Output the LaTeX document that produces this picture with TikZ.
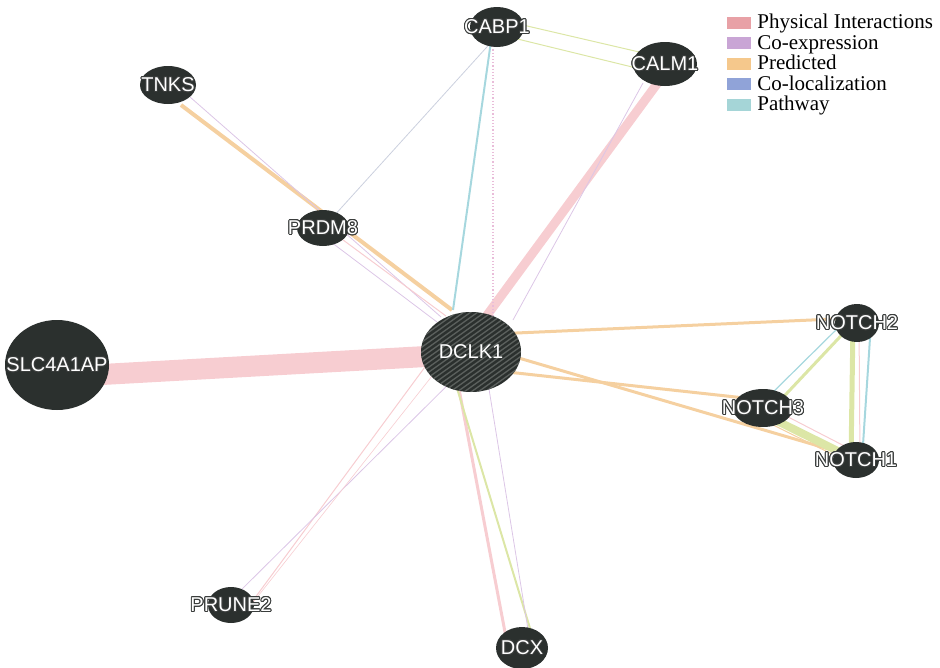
\documentclass[tikz,border=0pt]{standalone}
\usepackage{fontspec}
\usepackage[copies]{contour}
\usetikzlibrary{shapes.geometric,positioning}

\setmainfont{Liberation Serif}
\newfontfamily\genefamily{Liberation Sans}
\newcommand\genefont{\genefamily\fontsize{20}{20}\selectfont}
\newcommand\legfont{\fontsize{21}{21}\selectfont}
\contourlength{1pt}
\contournumber{16}
\newcommand\gname[1]{\contour{outlc}{#1}}

\definecolor{nodefill}{HTML}{2B302E}
\definecolor{hatchc}{HTML}{5C615E}
\definecolor{outlc}{HTML}{3A3D3C}
\definecolor{physc}{HTML}{F7CDD1}
\definecolor{coexpc}{HTML}{DCC6E6}
\definecolor{dotc}{HTML}{E9BCD9}
\definecolor{predc}{HTML}{F5D0A0}
\definecolor{greyc}{HTML}{CBD0DE}
\definecolor{pathc}{HTML}{A6D7DE}
\definecolor{domainc}{HTML}{DCE6A6}
\definecolor{legphys}{HTML}{E8A1A6}
\definecolor{legcoexp}{HTML}{C9A5D5}
\definecolor{legpred}{HTML}{F5C88C}
\definecolor{legcoloc}{HTML}{90A3D8}
\definecolor{legpath}{HTML}{A5D5D7}

\pgfdeclarelayer{edges}
\pgfsetlayers{edges,main}

\begin{document}
\begin{tikzpicture}[x=1pt,y=-1pt,
  gene/.style 2 args={ellipse, fill=nodefill, inner sep=0pt, minimum width=#1, minimum height=#2},
  genetext/.style={text=white, font=\genefont, inner sep=0pt},
  hatch/.style={draw=hatchc, line width=1.3pt},
  phys/.style={draw=physc, line width=#1}, phys/.default=1,
  coexp/.style={draw=coexpc, line width=#1}, coexp/.default=0.8,
  pred/.style={draw=predc, line width=#1}, pred/.default=3,
  pathway/.style={draw=pathc, line width=#1}, pathway/.default=2,
  domain/.style={draw=domainc, line width=#1}, domain/.default=2,
  swatch/.style={minimum width=24pt, minimum height=12pt, inner sep=0pt},
  legtext/.style={font=\legfont, inner sep=0pt, anchor=base west}]

  \useasboundingbox (0,0) rectangle (940,667);

  % genes
  \node[gene={100}{80}, path picture={
      \foreach \k in {-20,...,20}
        \draw[hatch] ([xshift=\k*7pt]path picture bounding box.center) +(-70,50) -- +(70,-50);
    }, label={[genetext]center:DCLK1}] (dclk) at (471,352) {};
  \node[gene={104}{90}, label={[genetext]center:\gname{SLC4A1AP}}] (slc) at (57,365) {};
  \node[gene={54}{40}, label={[genetext]center:\gname{CABP1}}] (cabp1) at (497,27) {};
  \node[gene={64}{44}, label={[genetext]center:\gname{CALM1}}] (calm1) at (665,64) {};
  \node[gene={56}{38}, label={[genetext]center:\gname{TNKS}}] (tnks) at (168,85) {};
  \node[gene={52}{36}, label={[genetext]center:\gname{PRDM8}}] (prdm8) at (323,228) {};
  \node[gene={44}{38}, label={[genetext]center:\gname{NOTCH2}}] (notch2) at (857,323) {};
  \node[gene={60}{38}, label={[genetext]center:\gname{NOTCH3}}] (notch3) at (763,408) {};
  \node[gene={46}{36}, label={[genetext]center:\gname{NOTCH1}}] (notch1) at (856,460) {};
  \node[gene={46}{36}, label={[genetext]center:\gname{PRUNE2}}] (prune2) at (231,605) {};
  \node[gene={52}{42}, label={[genetext]center:\gname{DCX}}] (dcx) at (522,648) {};

  % interactions
  \begin{pgfonlayer}{edges}
    \draw[phys=21] ([yshift=-12pt]slc.center) -- ([yshift=-2pt]dclk.center);
    \draw[phys=9] ([yshift=-9pt]calm1.center) -- ([xshift=-11pt]dclk.center);
    \draw[coexp] ([xshift=-22pt,yshift=-19pt]calm1.center) -- ([xshift=42pt,yshift=32pt]dclk.center);
    \draw[pred=4] ([xshift=13pt,yshift=-20pt]tnks.center) -- ([xshift=-19pt,yshift=42pt]dclk.center);
    \draw[coexp] ([xshift=22pt,yshift=-12pt]tnks.center) -- ([xshift=-30pt,yshift=35pt]dclk.center);
    \draw[phys] ([xshift=12pt,yshift=-6pt]prdm8.center) -- ([xshift=-25pt,yshift=36pt]dclk.center);
    \draw[coexp] ([yshift=-8pt]prdm8.center) -- ([xshift=-34pt,yshift=30pt]dclk.center);
    \draw[draw=greyc, line width=0.8pt] (prdm8.center) -- ([xshift=8pt]cabp1.center);
    \draw[pathway] ([xshift=-4pt]cabp1.center) -- ([xshift=-18pt,yshift=42pt]dclk.center);
    \draw[draw=dotc, line width=1.2pt, dotted] ([xshift=-4pt]cabp1.center) -- ([xshift=22pt,yshift=30pt]dclk.center);
    \draw[domain=1] ([yshift=8pt]cabp1.center) -- ([yshift=6pt]calm1.center);
    \draw[domain=1] ([yshift=-7pt]cabp1.center) -- ([yshift=-11pt]calm1.center);
    \draw[pred] ([yshift=17pt]dclk.center) -- ([yshift=5pt]notch2.center);
    \draw[pred] ([yshift=-16pt]dclk.center) -- ([yshift=8pt]notch3.center);
    \draw[pred] ([yshift=8pt]dclk.center) -- ([yshift=3pt]notch1.center);
    \draw[domain=3] ([xshift=-4pt]notch2.center) -- ([xshift=10pt]notch3.center);
    \draw[pathway=1.2] ([xshift=-14pt]notch2.center) -- ([yshift=6pt]notch3.center);
    \draw[domain=5] ([xshift=-4pt]notch2.center) -- ([xshift=-5pt]notch1.center);
    \draw[phys] ([xshift=2pt]notch2.center) -- ([xshift=4pt]notch1.center);
    \draw[pathway] ([xshift=14pt]notch2.center) -- ([xshift=6pt]notch1.center);
    \draw[domain=8] ([yshift=-6pt]notch3.center) -- (notch1.center);
    \draw[phys] ([yshift=4pt]notch3.center) -- ([yshift=8pt]notch1.center);
    \draw[pred=1] ([yshift=-12pt]notch3.center) -- ([yshift=-6pt]notch1.center);
    \draw[phys] ([xshift=-35pt]dclk.center) -- ([xshift=15pt,yshift=-5pt]prune2.center);
    \draw[coexp] ([xshift=10pt]dclk.center) -- ([yshift=5pt]prune2.center);
    \draw[phys=0.6] ([xshift=-20pt]dclk.center) -- ([xshift=20pt]prune2.center);
    \draw[phys=3] ([xshift=-19pt]dclk.center) -- ([xshift=-14pt]dcx.center);
    \draw[domain] ([xshift=-25pt]dclk.center) -- ([xshift=14pt]dcx.center);
    \draw[coexp] ([xshift=12pt]dclk.center) -- ([xshift=9pt]dcx.center);
  \end{pgfonlayer}

  % legend
  \node[swatch, fill=legphys] (sw-phys) at (739,22.5) {};
  \node[swatch, fill=legcoexp] (sw-coexp) at (739,43) {};
  \node[swatch, fill=legpred] (sw-pred) at (739,63.5) {};
  \node[swatch, fill=legcoloc] (sw-coloc) at (739,84) {};
  \node[swatch, fill=legpath] (sw-path) at (739,104.5) {};
  \node[legtext] (lt-phys) at ([xshift=6pt,yshift=-6pt]sw-phys.east) {Physical Interactions};
  \node[legtext] (lt-coexp) at ([xshift=6pt,yshift=-6pt]sw-coexp.east) {Co-expression};
  \node[legtext] (lt-pred) at ([xshift=6pt,yshift=-6pt]sw-pred.east) {Predicted};
  \node[legtext] (lt-coloc) at ([xshift=6pt,yshift=-6pt]sw-coloc.east) {Co-localization};
  \node[legtext] (lt-path) at ([xshift=6pt,yshift=-6pt]sw-path.east) {Pathway};
\end{tikzpicture}
\end{document}
